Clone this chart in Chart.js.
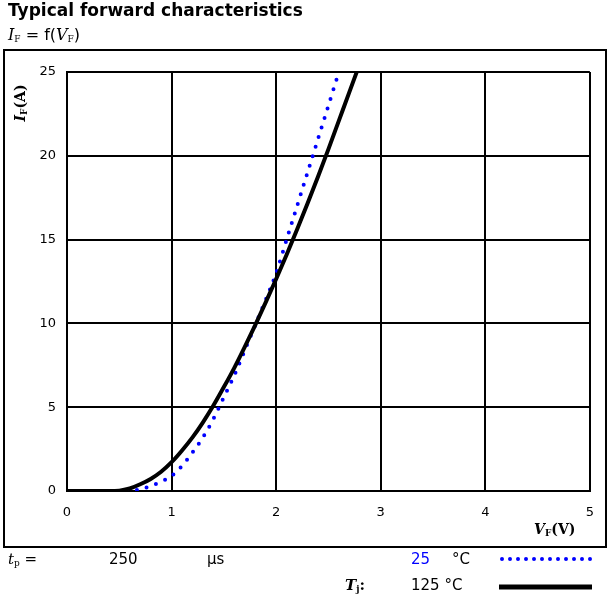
<!DOCTYPE html>
<html>
<head>
<meta charset="utf-8">
<script src="https://cdn.jsdelivr.net/npm/chart.js@4"></script>
<style>
  body { margin: 0; background: #fff; }
  #wrap { position: relative; width: 608px; height: 602px; }
  canvas { position: absolute; left: 0; top: 0; }
  .t { position: absolute; white-space: nowrap; color: #000; font-family: "DejaVu Sans", sans-serif; line-height: 1; }
  .m { font-family: "DejaVu Serif", serif; }
  .m sub { font-size: 9px; font-style: normal; vertical-align: -2px; }
</style>
</head>
<body>
<div id="wrap">
  <canvas id="chart" width="608" height="602"></canvas>
  <div class="t" style="left:8px;top:2px;font-size:17px;font-weight:bold;">Typical forward characteristics</div>
  <div class="t" style="left:8px;top:27px;font-size:16px;"><span class="m"><i>I</i><sub>F</sub></span> = f(<span class="m"><i>V</i><sub>F</sub></span>)</div>
  <div class="t m" style="left-0;left:-4px;top:95px;font-size:14px;font-weight:bold;transform:rotate(-90deg);transform-origin:center;width:50px;text-align:center;"><i>I</i><sub>F</sub>(A)</div>
  <div class="t m" style="left:534px;top:522px;font-size:14px;font-weight:bold;"><i>V</i><sub>F</sub>(V)</div>
  <div class="t" style="left:8px;top:552px;font-size:15px;"><span class="m"><i>t</i><sub>p</sub></span> =</div>
  <div class="t" style="left:109px;top:552px;font-size:15px;">250</div>
  <div class="t" style="left:207px;top:552px;font-size:15px;">µs</div>
  <div class="t" style="left:411px;top:552px;font-size:15px;color:#0000ff;">25</div>
  <div class="t" style="left:452px;top:552px;font-size:15px;">°C</div>
  <div class="t m" style="left:345px;top:578px;font-size:15px;font-weight:bold;"><i>T</i><sub>j</sub>:</div>
  <div class="t" style="left:411px;top:578px;font-size:15px;">125 °C</div>
</div>
<script>
const vf25 = [0, 0.2, 0.4, 0.6, 0.7, 0.8, 0.9, 1.0, 1.1, 1.2, 1.3, 1.4, 1.5, 1.6, 1.7, 1.8, 1.9, 2.0, 2.1, 2.2, 2.3, 2.4, 2.5, 2.6];
const if25 = [0, 0, 0, 0, 0.1, 0.3, 0.55, 0.9, 1.5, 2.3, 3.2, 4.3, 5.6, 6.9, 8.4, 9.9, 11.4, 13.0, 15.0, 17.0, 19.0, 21.0, 23.0, 25.0];
const vf125 = [0, 0.2, 0.4, 0.5, 0.6, 0.7, 0.8, 0.9, 1.0, 1.1, 1.2, 1.3, 1.4, 1.5, 1.6, 1.7, 1.8, 1.9, 2.0, 2.1, 2.2, 2.3, 2.4, 2.5, 2.6, 2.7, 2.8];
const if125 = [0, 0, 0, 0.02, 0.15, 0.4, 0.72, 1.15, 1.72, 2.42, 3.2, 4.1, 5.1, 6.2, 7.35, 8.6, 9.9, 11.25, 12.65, 14.1, 15.6, 17.15, 18.75, 20.4, 22.1, 23.8, 25.5];
const xTicks = [0, 1, 2, 3, 4, 5];
const yTicks = [0, 5, 10, 15, 20, 25];

const pts = (xs, ys) => xs.map((x, i) => ({ x: x, y: ys[i] }));

const extras = {
  id: "extras",
  afterDraw(chart) {
    const c = chart.ctx;
    c.save();
    c.strokeStyle = "#000";
    c.lineWidth = 2;
    c.strokeRect(4, 50, 602, 497);
    // legend samples
    c.beginPath();
    c.strokeStyle = "#0000ff";
    c.lineWidth = 4;
    c.lineCap = "round";
    c.setLineDash([0, 8]);
    c.moveTo(502, 559);
    c.lineTo(592, 559);
    c.stroke();
    c.beginPath();
    c.setLineDash([]);
    c.lineCap = "butt";
    c.strokeStyle = "#000";
    c.lineWidth = 5;
    c.moveTo(499, 587);
    c.lineTo(592, 587);
    c.stroke();
    c.restore();
  }
};

new Chart(document.getElementById("chart"), {
  type: "line",
  data: {
    datasets: [
      {
        label: "125 °C",
        data: pts(vf125, if125),
        borderColor: "#000",
        borderWidth: 4,
        pointRadius: 0,
        cubicInterpolationMode: "monotone"
      },
      {
        label: "25 °C",
        data: pts(vf25, if25),
        borderColor: "#0000ff",
        borderWidth: 4,
        borderDash: [0, 10],
        borderCapStyle: "round",
        pointRadius: 0,
        cubicInterpolationMode: "monotone"
      }
    ]
  },
  options: {
    responsive: false,
    animation: false,
    layout: { padding: { top: 72, right: 17, left: 0, bottom: 0 } },
    plugins: { legend: { display: false }, tooltip: { enabled: false } },
    scales: {
      x: {
        type: "linear",
        min: 0,
        max: 5,
        afterFit: s => { s.height = 111; },
        afterBuildTicks: s => { s.ticks = xTicks.map(v => ({ value: v })); },
        grid: { color: "#000", lineWidth: 2, drawTicks: false },
        border: { color: "#000", width: 2 },
        ticks: { color: "#000", padding: 14, font: { family: "DejaVu Sans", size: 13 } }
      },
      y: {
        min: 0,
        max: 25,
        afterFit: s => { s.width = 67; },
        afterBuildTicks: s => { s.ticks = yTicks.map(v => ({ value: v })); },
        grid: { color: "#000", lineWidth: 2, drawTicks: false },
        border: { color: "#000", width: 2 },
        ticks: { color: "#000", padding: 11, font: { family: "DejaVu Sans", size: 13 } }
      }
    }
  },
  plugins: [extras]
});
</script>
</body>
</html>
